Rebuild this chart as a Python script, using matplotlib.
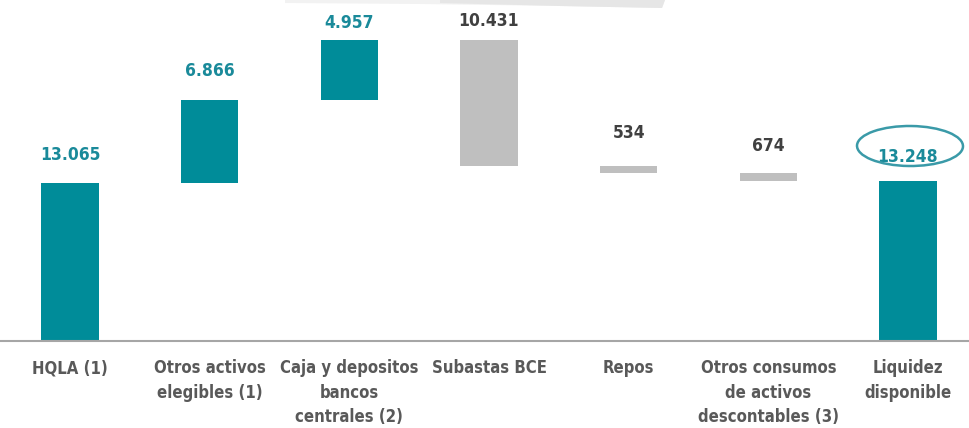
import matplotlib
matplotlib.use("Agg")
import matplotlib.pyplot as plt
from matplotlib.patches import Ellipse, Polygon
import numpy as np

categories = ["HQLA (1)", "Otros activos\nelegibles (1)", "Caja y depositos\nbancos\ncentrales (2)",
              "Subastas BCE", "Repos", "Otros consumos\nde activos\ndescontables (3)", "Liquidez\ndisponible"]
values = [13065, 6866, 4957, -10431, -534, -674, 13248]
labels = ["13.065", "6.866", "4.957", "10.431", "534", "674", "13.248"]
kinds = ["total", "up", "up", "down", "down", "down", "total"]

TEAL = "#008C99"
GREY = "#BFBFBF"
plt.rcParams['font.family'] = ['DejaVu Sans']
plt.rcParams['font.stretch'] = 'condensed'

fig = plt.figure(figsize=(9.7, 4.28), dpi=100)
ax = fig.add_axes([0, 87/428, 1, 341/428])
ax.set_xlim(-0.501, 6.444)
ax.set_ylim(0, 28200)
ax.axis("off")

bottoms, heights = [], []
run = 0
for v, k in zip(values, kinds):
    if k == "total":
        bottoms.append(0); heights.append(v); run = v
    elif k == "up":
        bottoms.append(run); heights.append(v); run += v
    else:
        bottoms.append(run + v); heights.append(-v); run += v

colors = [TEAL if k != "down" else GREY for k in kinds]
x = np.arange(len(categories))
ax.bar(x, heights, bottom=bottoms, width=0.41, color=colors)

offs = [28, 29, 17, 19, 33, 27, 24]  # label offset px above bar top
for i in range(len(x)):
    top = bottoms[i] + heights[i]
    col = "#1A8A9A" if kinds[i] != "down" else "#404040"
    ax.annotate(labels[i], (x[i], top), xytext=(0, offs[i]), textcoords="offset pixels",
                ha="center", va="center", fontsize=12.5, fontweight="bold", color=col,
                fontstretch="condensed")

# baseline
fig.add_artist(plt.Line2D([0, 1], [87/428, 87/428], color="#A6A6A6", lw=1.5))

# category labels
for i, c in enumerate(categories):
    xf = (70 + 139.67 * i) / 970
    fig.text(xf, 1 - 359/428, c, ha="center", va="top", fontsize=12, fontweight="bold",
             color="#595959", linespacing=1.47, fontstretch="condensed")

# ellipse highlight
el = Ellipse((910/970, 1 - 146/428), 106/970, 40/428, transform=fig.transFigure,
             fill=False, edgecolor="#3A9AA8", lw=1.8, angle=-2)
fig.add_artist(el)

# decorative brush stroke at top
poly1 = Polygon([[285/970, 1.0], [665/970, 1.0], [662/970, 1 - 8/428], [560/970, 1 - 6/428],
                 [420/970, 1 - 4/428], [285/970, 1 - 3/428]],
                closed=True, transform=fig.transFigure, facecolor="#F2F2F2", edgecolor="none")
poly2 = Polygon([[440/970, 1.0], [665/970, 1.0], [662/970, 1 - 8/428], [560/970, 1 - 6/428],
                 [440/970, 1 - 3/428]],
                closed=True, transform=fig.transFigure, facecolor="#E6E6E6", edgecolor="none")
fig.add_artist(poly1)
fig.add_artist(poly2)

fig.savefig("out.png", dpi=100)
